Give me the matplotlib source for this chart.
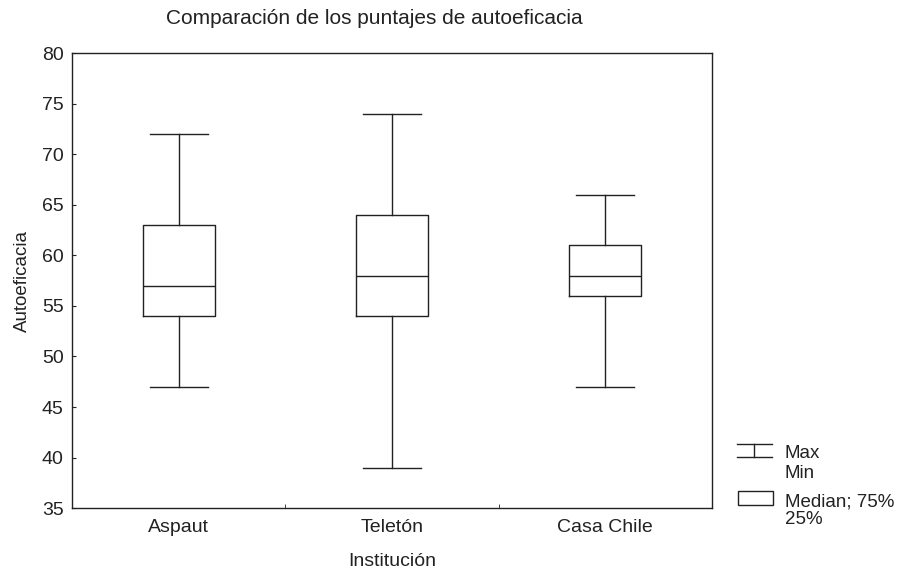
import matplotlib
matplotlib.use("Agg")
import matplotlib.pyplot as plt
from matplotlib.lines import Line2D
from matplotlib.patches import Rectangle

plt.rcParams['font.family'] = ['Liberation Sans', 'DejaVu Sans']

# data
categories = ['Aspaut', 'Teletón', 'Casa Chile']
mins = [47, 39, 47]
q1s = [54, 54, 56]
medians = [57, 58, 58]
q3s = [63, 64, 61]
maxs = [72, 74, 66]

ink = '#222222'

fig = plt.figure(figsize=(9.02, 5.71), dpi=100)
ax = fig.add_axes([0.080, 0.110, 0.709, 0.797])

stats = []
for i in range(len(categories)):
    stats.append({'label': categories[i], 'whislo': mins[i], 'q1': q1s[i],
                  'med': medians[i], 'q3': q3s[i], 'whishi': maxs[i], 'fliers': []})

lp = dict(color=ink, linewidth=1.0)
ax.bxp(stats, positions=[1, 2, 3], widths=0.34, showfliers=False,
       boxprops=lp, whiskerprops=lp, capprops=lp, medianprops=lp,
       capwidths=0.27)

ax.set_xlim(0.5, 3.5)
ax.set_ylim(35, 80)
ax.set_yticks(range(35, 81, 5))
ax.set_xticks([1, 2, 3])
ax.set_xticklabels(categories)
ax.set_xticks([1.5, 2.5], minor=True)
ax.tick_params(axis='x', which='major', length=0, labelsize=14, pad=8, colors=ink)
ax.tick_params(axis='x', which='minor', direction='in', length=3, color=ink)
ax.tick_params(axis='y', direction='in', length=3, labelsize=14, colors=ink, pad=6)
for s in ax.spines.values():
    s.set_color(ink)
    s.set_linewidth(1.0)

ax.set_xlabel('Institución', fontsize=14, color=ink, labelpad=12)
ax.set_ylabel('Autoeficacia', fontsize=13.5, color=ink, labelpad=8)
fig.text(374 / 902, 1 - 18 / 571, 'Comparación de los puntajes de autoeficacia',
         ha='center', va='center', fontsize=15, color=ink)

# legend drawn by hand
def fx(px):
    return px / 902

def fy(py):
    return 1 - py / 571

fig.add_artist(Line2D([fx(737), fx(772)], [fy(444), fy(444)], color=ink, lw=1))
fig.add_artist(Line2D([fx(737), fx(772)], [fy(457), fy(457)], color=ink, lw=1))
fig.add_artist(Line2D([fx(754), fx(754)], [fy(444), fy(457)], color=ink, lw=1))
fig.add_artist(Rectangle((fx(738), fy(505)), fx(773) - fx(738), fy(491) - fy(505),
                         transform=fig.transFigure, fill=False, edgecolor=ink, lw=1))
fig.text(fx(785), fy(453), 'Max', fontsize=13.5, color=ink, va='center')
fig.text(fx(785), fy(473), 'Min', fontsize=13.5, color=ink, va='center')
fig.text(fx(785), fy(502), 'Median; 75%', fontsize=13.5, color=ink, va='center')
fig.text(fx(785), fy(520), '25%', fontsize=13.5, color=ink, va='center')

fig.savefig('out.png', dpi=100, facecolor='white')
